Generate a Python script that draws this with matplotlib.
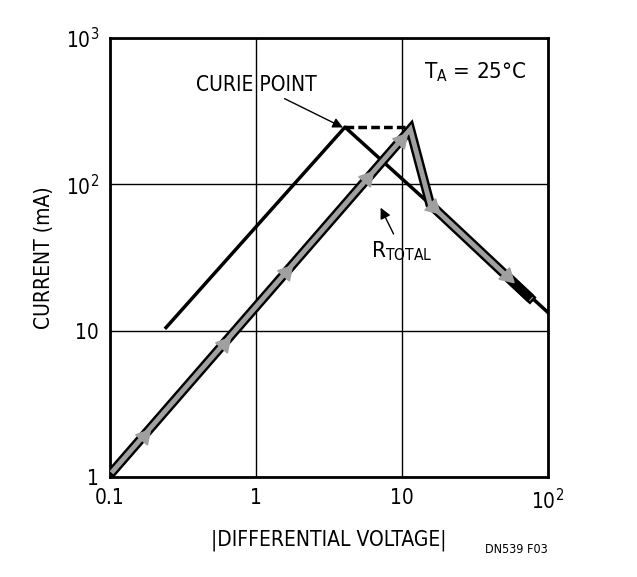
import matplotlib
matplotlib.use("Agg")
import matplotlib.pyplot as plt
import numpy as np

plt.rcParams["font.family"] = "DejaVu Sans"
plt.rcParams["font.stretch"] = "condensed"

black_x = [0.242, 4.07, 15.6, 100]
black_y = [10.5, 246, 73, 13.3]
dash_x = [4.07, 11.4]
dash_y = [246, 246]
gray_x = [0.105, 11.4, 15.6, 75]
gray_y = [1.1, 238, 73, 16.8]
arrow_x = [0.17, 0.6, 1.6, 5.8, 9.8, 16.2, 52]

fig = plt.figure(figsize=(6.37, 5.77), dpi=100)
ax = fig.add_axes([110/637, 1-477/577, 438/637, 439/577])
ax.set_xscale("log"); ax.set_yscale("log")
ax.set_xlim(0.1, 100); ax.set_ylim(1, 1000)
ax.grid(True, which="major", color="black", lw=1)
for s in ax.spines.values(): s.set_linewidth(2)
ax.tick_params(which="both", length=0, labelsize=15, pad=8)
ax.set_xticks([0.1, 1, 10, 100]); ax.set_xticklabels(["0.1", "1", "10", "$\\mathregular{10^2}$"])
ax.set_yticks([1, 10, 100, 1000]); ax.set_yticklabels(["1", "10", "$\\mathregular{10^2}$", "$\\mathregular{10^3}$"])
ax.minorticks_off()

lx, ly = np.log10(gray_x), np.log10(gray_y)
def on_path(x):
    l = np.log10(x)
    i = max(0, min(np.searchsorted(lx, l) - 1, len(lx) - 2))
    y = ly[i] + (ly[i+1]-ly[i]) * (l - lx[i]) / (lx[i+1]-lx[i])
    ang = np.degrees(np.arctan2(ly[i+1]-ly[i], lx[i+1]-lx[i]))
    return 10**y, ang

ax.plot(black_x, black_y, color="black", lw=2.5, zorder=3)
ax.plot(dash_x, dash_y, color="black", lw=2.5, ls=(0, (2.5, 1.2)), zorder=3)
ax.plot(gray_x, gray_y, color="black", lw=7, solid_joinstyle="miter", zorder=4)
ax.plot(gray_x, gray_y, color="#a0a0a0", lw=3.5, solid_joinstyle="miter", zorder=5)
ex = [55, 72]
ax.plot(ex, [on_path(v)[0] for v in ex], color="black", lw=7, zorder=6)
for x in arrow_x:
    y, ang = on_path(x)
    ax.plot([x], [y], marker=(3, 0, ang - 90), ms=13, color="#a0a0a0",
            markeredgecolor="#a0a0a0", zorder=7)

ax.text(0.95, 0.95, "$\\mathregular{T_A}$ = 25°C", transform=ax.transAxes,
        ha="right", va="top", fontsize=16)
ax.annotate("CURIE POINT", xy=(4.1, 240), xytext=(2.6, 480), fontsize=15,
            ha="right", va="center",
            arrowprops=dict(arrowstyle="-|>", color="black", lw=1))
ax.annotate("$\\mathregular{R_{TOTAL}}$", xy=(7.0, 72), xytext=(10, 35), fontsize=16,
            ha="center", va="center",
            arrowprops=dict(arrowstyle="-|>", color="black", lw=1))
ax.set_xlabel("|DIFFERENTIAL VOLTAGE|", fontsize=15, labelpad=12)
ax.set_ylabel("CURRENT (mA)", fontsize=15, labelpad=8)
fig.text(548/637, 1-553/577, "DN539 F03", fontsize=9, ha="right")
fig.savefig("out.png", dpi=100)
